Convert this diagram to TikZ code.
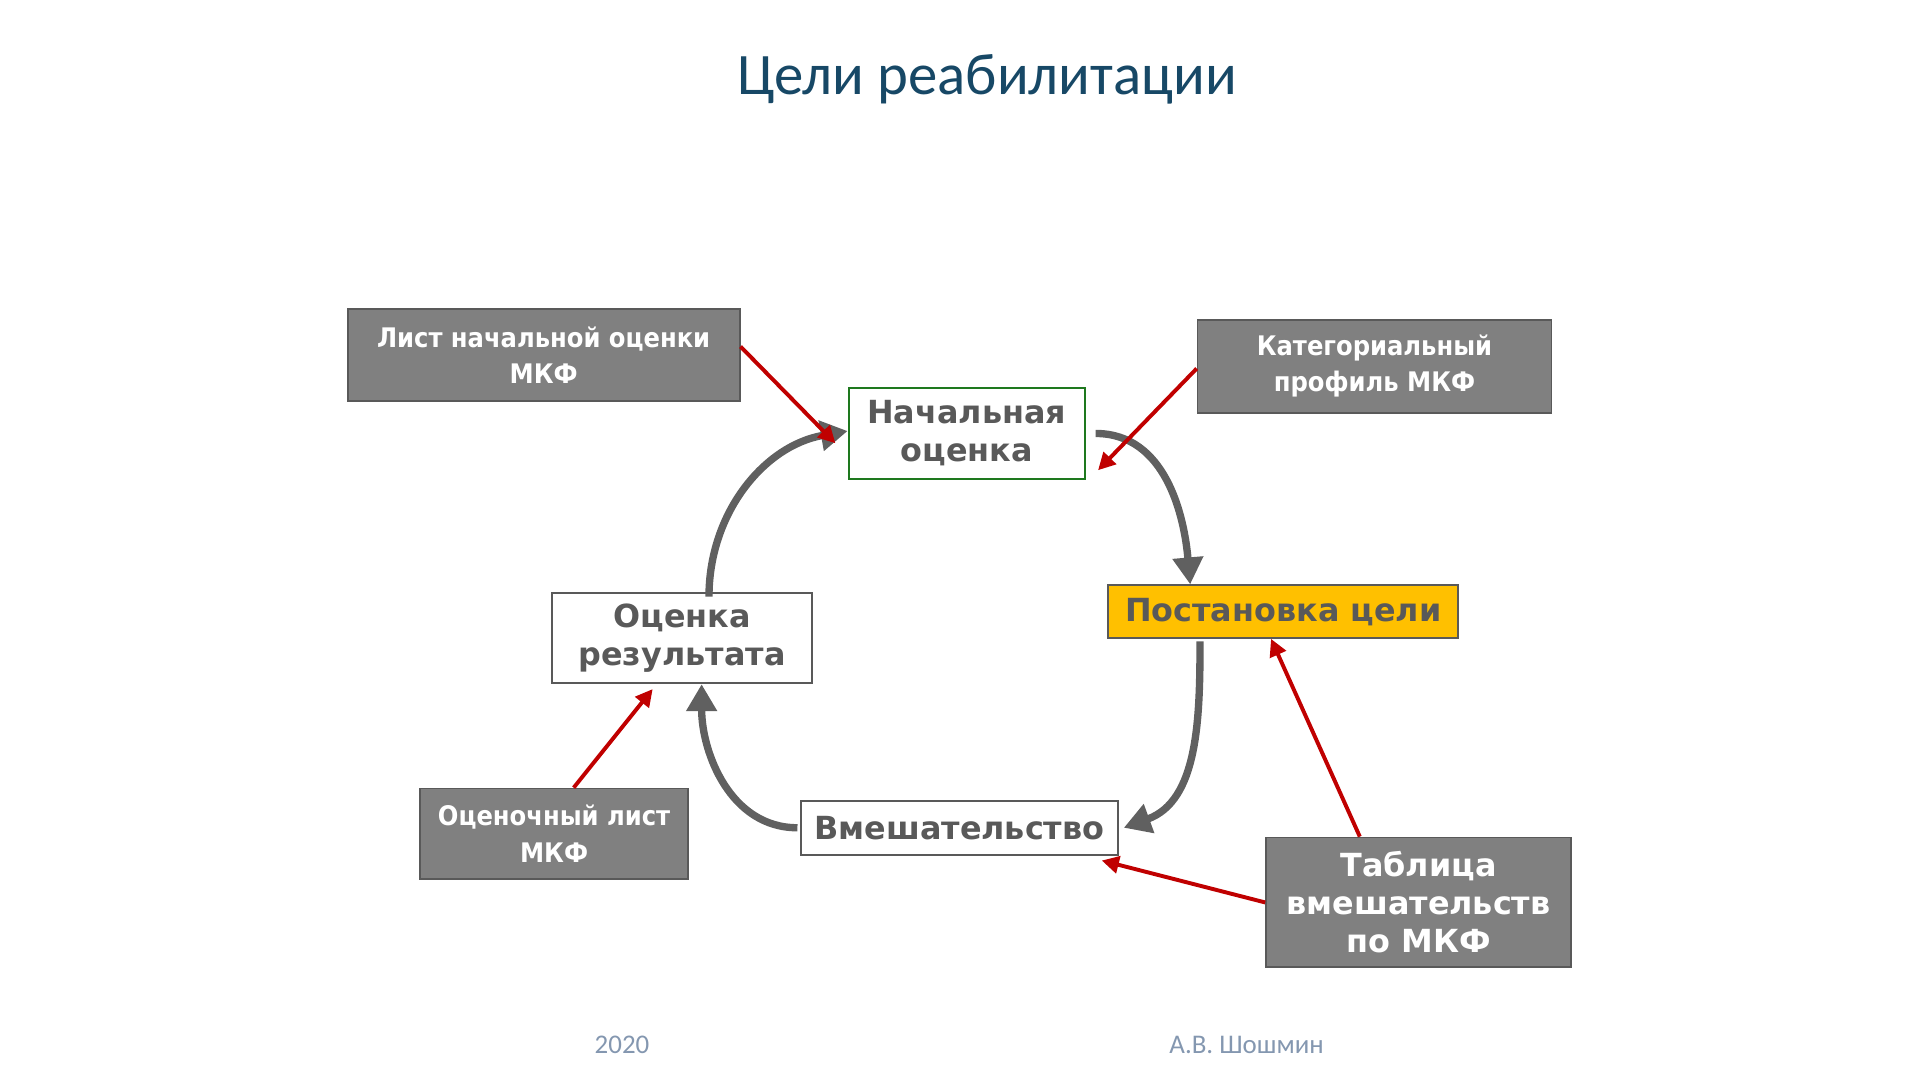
\documentclass[tikz,border=0pt]{standalone}
\usepackage{fontspec}
\setmainfont{DejaVu Sans}
\newfontfamily\titlefont{Carlito}
\newfontfamily\condfont{DejaVu Sans Condensed}
\usetikzlibrary{arrows.meta}
\definecolor{boxgray}{RGB}{128,128,128}
\definecolor{boxedge}{RGB}{89,89,89}
\definecolor{textgray}{RGB}{89,89,89}
\definecolor{loopgray}{RGB}{96,96,96}
\definecolor{linkred}{RGB}{192,0,0}
\definecolor{titleblue}{RGB}{23,72,102}
\definecolor{footgray}{RGB}{132,151,176}
\definecolor{goalfill}{RGB}{255,192,0}
\definecolor{startedge}{RGB}{30,120,30}
\tikzset{every picture/.style={line width=0.75pt}}
\tikzset{
  srcbox/.style={draw=boxedge,fill=boxgray,text=white,font=\condfont\bfseries\fontsize{11}{15}\selectfont,align=center,inner sep=0pt},
  stagebox/.style={draw=boxedge,fill=white,text=textgray,font=\bfseries\fontsize{13}{15.5}\selectfont,align=center,inner sep=0pt},
  loop/.style={draw=loopgray,line width=3pt,-{Triangle[length=11pt,width=12pt]}},
  link/.style={draw=linkred,line width=1.6pt,-{Triangle[length=7pt,width=7pt]}}
}
\begin{document}
\begin{tikzpicture}[x=0.5pt,y=-0.5pt]
\useasboundingbox (0,0) rectangle (1568,882);

% Title
\node (title) at (806,65) {\titlefont\fontsize{24}{28}\selectfont\color{titleblue}Цели реабилитации};

% Source boxes
\node[srcbox,minimum width=160pt,minimum height=37.5pt] (list) at (444,290) {Лист начальной оценки\\МКФ};
\node[srcbox,minimum width=144.5pt,minimum height=38pt] (profile) at (1122.5,299) {Категориальный\\профиль МКФ};
\node[srcbox,minimum width=109.5pt,minimum height=37pt] (sheet) at (452.5,681) {Оценочный лист\\МКФ};
\node[srcbox,minimum width=124.5pt,minimum height=53pt,font=\bfseries\fontsize{13}{15.5}\selectfont] (table) at (1158.5,737) {Таблица\\вмешательств\\по МКФ};

% Stages
\node[stagebox,draw=startedge,minimum width=96.5pt,minimum height=37pt] (start) at (789.5,354) {Начальная\\оценка};
\node[stagebox,fill=goalfill,minimum width=143pt,minimum height=21.5pt] (goal) at (1048,499.5) {Постановка цели};
\node[stagebox,minimum width=129.5pt,minimum height=22pt] (action) at (783.5,676) {Вмешательство};
\node[stagebox,minimum width=106pt,minimum height=37pt] (result) at (557,521) {Оценка\\результата};

% Cycle
\draw[loop] ([xshift=4pt]start.east) to[out=0,in=95] ([xshift=-38pt]goal.north);
\draw[loop] ([xshift=-34pt,yshift=-1pt]goal.south) to[out=-90,in=20] ([xshift=2pt]action.east);
\draw[loop] ([xshift=-1pt]action.west) to[out=180,in=-90] ([xshift=8pt]result.south);
\draw[loop] ([xshift=11pt,yshift=-2pt]result.north) to[out=90,in=190] ([yshift=1pt]start.west);

% Sources
\draw[link] ([yshift=3.5pt]list.east) -- ([xshift=-5pt,yshift=-4pt]start.west);
\draw[link] ([yshift=-1pt]profile.west) -- ([xshift=5pt,yshift=-15pt]start.east);
\draw[link] ([xshift=-24pt]table.north) -- ([xshift=-5pt,yshift=0pt]goal.south);
\draw[link] ([yshift=0pt]table.west) -- ([xshift=-7pt,yshift=-2pt]action.south east);
\draw[link] ([xshift=8pt]sheet.north) -- ([xshift=-12pt,yshift=-2pt]result.south);

% Footer
\node[text=footgray] (year) at (508,853) {\titlefont\fontsize{11}{13}\selectfont 2020};
\node[text=footgray] (author) at (1018,853) {\titlefont\fontsize{11}{13}\selectfont А.В. Шошмин};
\end{tikzpicture}
\end{document}
